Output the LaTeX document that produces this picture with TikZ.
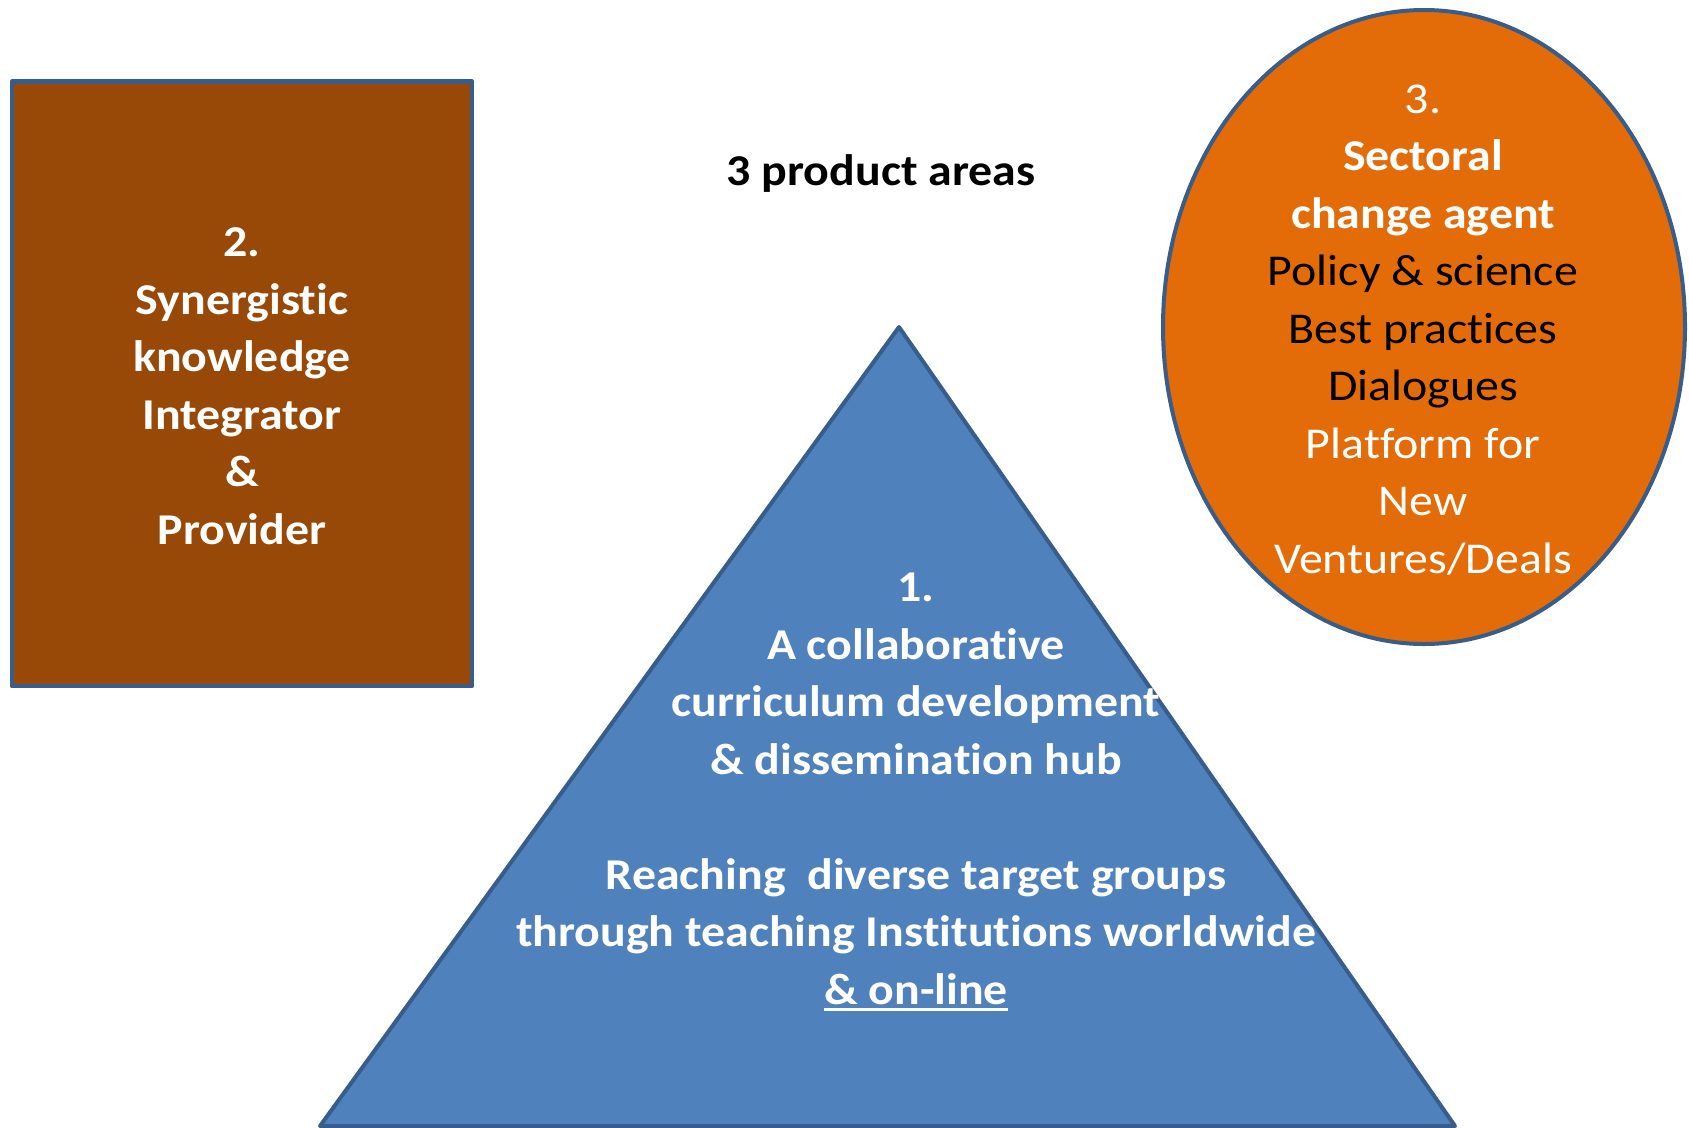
\documentclass[tikz,border=0pt]{standalone}
\usepackage{fontspec}
\setmainfont{Carlito}[FakeStretch=1.088, Ligatures=NoCommon]
\usetikzlibrary{shapes.geometric}
\definecolor{brownfill}{HTML}{984807}
\definecolor{orangefill}{HTML}{E36C09}
\definecolor{bluefill}{HTML}{4F81BD}
\definecolor{edgeblue}{HTML}{385D8A}
\newcommand\ulx[1]{\setbox0\hbox{#1}\rlap{\rule[-7pt]{\wd0}{3pt}}\box0}
\tikzset{
  shapeedge/.style={draw=edgeblue, line width=4.5pt, line join=round},
  lbl/.style={align=center, inner sep=0pt, font=\fontsize{44}{57.5}\selectfont},
}
\begin{document}
\begin{tikzpicture}[x=1pt,y=-1pt]
\useasboundingbox (0,0) rectangle (1689,1127);
% shapes
\draw[shapeedge, fill=brownfill] (12,81.5) rectangle (472,686);
\coordinate (apex) at (899,327);
\coordinate (bl) at (320,1126);
\coordinate (br) at (1455,1126);
\draw[shapeedge, line width=4pt, fill=bluefill] (apex) -- (br) -- (bl) -- cycle;
\draw[shapeedge, line width=4pt, fill=orangefill] (1424,327) ellipse [x radius=261, y radius=317];
% texts
\node[lbl, font=\fontsize{44}{57.5}\selectfont\bfseries] (title) at (881,174) {3 product areas};
\node[lbl, text=white, font=\fontsize{44}{57.5}\selectfont\bfseries] (two) at (242,386) {2.\\Synergistic\\knowledge\\Integrator\\\&\\Provider};
\node[lbl] (three) at (1423,330) {\textcolor{white}{3.}\\\textcolor{white}{\bfseries Sectoral}\\\textcolor{white}{\bfseries change agent}\\Policy \& science\\Best practices\\Dialogues\\\textcolor{white}{Platform for}\\\textcolor{white}{New}\\\textcolor{white}{Ventures/Deals}};
\node[lbl, text=white, font=\fontsize{44}{57.5}\selectfont\bfseries] (one) at (916,792) {1.\\A collaborative\\curriculum development\\\& dissemination hub\\[57.5pt]Reaching~ diverse target groups\\through teaching Institutions worldwide\\\ulx{\& on-line}};
\end{tikzpicture}
\end{document}
